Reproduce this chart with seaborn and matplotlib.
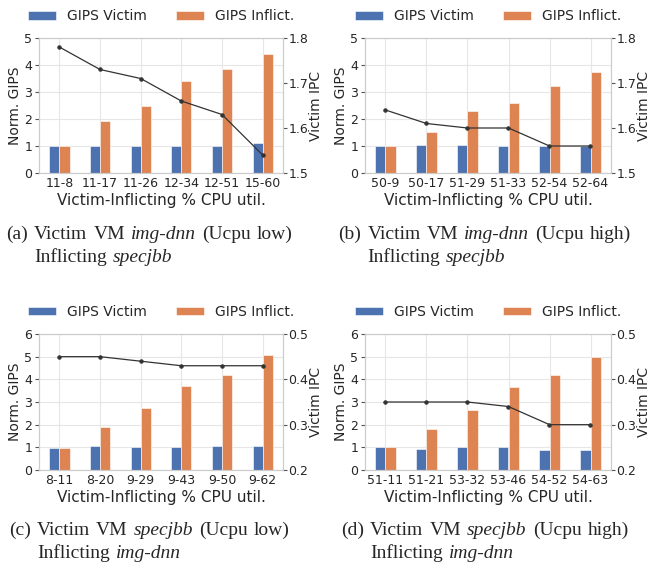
import numpy as np
import pandas as pd
import matplotlib
matplotlib.use("Agg")
import matplotlib.pyplot as plt
from matplotlib.transforms import offset_copy
import seaborn as sns

# dados
util_a = ["11-8", "11-17", "11-26", "12-34", "12-51", "15-60"]
victim_a = [1.0, 1.0, 1.0, 1.0, 1.0, 1.11]
inflict_a = [1.0, 1.94, 2.49, 3.41, 3.84, 4.41]
ipc_a = [1.78, 1.73, 1.71, 1.66, 1.63, 1.54]

util_b = ["50-9", "50-17", "51-29", "51-33", "52-54", "52-64"]
victim_b = [1.0, 1.02, 1.02, 1.0, 1.0, 1.0]
inflict_b = [1.0, 1.52, 2.3, 2.59, 3.22, 3.74]
ipc_b = [1.64, 1.61, 1.60, 1.60, 1.56, 1.56]

util_c = ["8-11", "8-20", "9-29", "9-43", "9-50", "9-62"]
victim_c = [0.99, 1.07, 1.02, 1.03, 1.08, 1.08]
inflict_c = [0.99, 1.88, 2.72, 3.69, 4.19, 5.06]
ipc_c = [0.45, 0.45, 0.44, 0.43, 0.43, 0.43]

util_d = ["51-11", "51-21", "53-32", "53-46", "54-52", "54-63"]
victim_d = [1.0, 0.93, 1.02, 1.02, 0.9, 0.88]
inflict_d = [1.0, 1.82, 2.63, 3.68, 4.17, 5.0]
ipc_d = [0.35, 0.35, 0.35, 0.34, 0.30, 0.30]

series = ["GIPS Victim", "GIPS Inflict."]
cores = ["#4C72B0", "#DD8452"]

W, H = 648, 566


def rect(left, top, right, bottom):
    return [left / W, 1 - bottom / H, (right - left) / W, (bottom - top) / H]


def painel(fig, pos, util, victim, inflict, ipc, gips_max, ipc_lim):
    ax = fig.add_axes(pos)
    df = pd.DataFrame({
        "util": util * 2,
        "gips": victim + inflict,
        "serie": [series[0]] * len(util) + [series[1]] * len(util),
    })
    sns.barplot(data=df, x="util", y="gips", hue="serie", palette=cores,
                width=0.5, saturation=1, ax=ax, edgecolor="white", linewidth=0.4)
    ax.set_ylim(0, gips_max)
    ax.set_yticks(range(gips_max + 1))
    ax.xaxis.grid(True)
    ax.set_xlabel("Victim-Inflicting % CPU util.", fontsize=11, labelpad=2)
    ax.set_ylabel("Norm. GIPS", fontsize=10, labelpad=1.2)
    ax.tick_params(axis="x", labelsize=9, length=0, pad=3)
    ax.tick_params(axis="y", labelsize=9, length=3, color="#555555", pad=2)

    handles, labels = ax.get_legend_handles_labels()
    ax.legend_.remove()
    ax.legend(handles, labels, loc="center", bbox_to_anchor=(0.5, 1.163), ncol=2,
              frameon=False, fontsize=10, handlelength=2.0, handleheight=0.6,
              handletextpad=0.8, columnspacing=2.1, borderaxespad=0)

    ax2 = ax.twinx()
    sns.pointplot(x=util, y=ipc, ax=ax2, color="#333333", markers="o",
                  markersize=2.5, linewidth=0.9, errorbar=None)
    ax2.set_ylim(*ipc_lim)
    ax2.set_yticks(np.round(np.arange(ipc_lim[0], ipc_lim[1] + 0.001, 0.1), 1))
    ax2.grid(False)
    ax2.set_ylabel("Victim IPC", fontsize=10)
    # rótulo da direita colado aos números, como no original
    ax2.yaxis.set_label_coords(1, 0.5, transform=offset_copy(ax2.transAxes, fig=fig,
                                                             x=26.5, y=0, units="dots"))
    ax2.tick_params(axis="y", labelsize=9, length=3, color="#555555", pad=0.8)
    for s in ax2.spines.values():
        s.set_color("#cccccc")
    return ax


def legenda(fig, cx, base1, base2, letra, app_victim, ucpu, app_inflict):
    r = fig.canvas.get_renderer()
    fs = 14

    def largura(s, estilo):
        t = fig.text(0, 0, s, fontsize=fs, family="Liberation Serif", style=estilo)
        w = t.get_window_extent(r).width
        t.remove()
        return w

    # espaço entre palavras um pouco mais largo, como no LaTeX
    espaco = 0.31 * fs * 100 / 72
    linha1 = [(f"({letra})", "normal"), ("Victim", "normal"), ("VM", "normal"),
              (app_victim, "italic"), ("(Ucpu", "normal"), (f"{ucpu})", "normal")]
    larg = [largura(s, e) for s, e in linha1]
    total = sum(larg) + espaco * (len(linha1) - 1)
    x = cx - total / 2
    x_victim = None
    for i, ((s, e), w) in enumerate(zip(linha1, larg)):
        if i == 1:
            x_victim = x
        fig.text(x / W, 1 - base1 / H, s, fontsize=fs, family="Liberation Serif",
                 style=e, va="baseline", ha="left")
        x += w + espaco
    x = x_victim
    for s, e in [("Inflicting", "normal"), (app_inflict, "italic")]:
        fig.text(x / W, 1 - base2 / H, s, fontsize=fs, family="Liberation Serif",
                 style=e, va="baseline", ha="left")
        x += largura(s, e) + espaco


sns.set_style("whitegrid", {"grid.color": "#e6e6e6", "axes.edgecolor": "#cccccc"})
fig = plt.figure(figsize=(W / 100, H / 100), dpi=100)

painel(fig, rect(39, 38, 283, 173), util_a, victim_a, inflict_a, ipc_a, 5, (1.5, 1.8))
painel(fig, rect(365, 38, 611, 173), util_b, victim_b, inflict_b, ipc_b, 5, (1.5, 1.8))
painel(fig, rect(39, 334, 283, 470), util_c, victim_c, inflict_c, ipc_c, 6, (0.2, 0.5))
painel(fig, rect(365, 334, 611, 470), util_d, victim_d, inflict_d, ipc_d, 6, (0.2, 0.5))

legenda(fig, 149.5, 239, 262, "a", "img-dnn", "low", "specjbb")
legenda(fig, 485, 239, 262, "b", "img-dnn", "high", "specjbb")
legenda(fig, 149.5, 535, 558, "c", "specjbb", "low", "img-dnn")
legenda(fig, 485, 535, 558, "d", "specjbb", "high", "img-dnn")

fig.savefig("out.png", dpi=100)
plt.close(fig)
